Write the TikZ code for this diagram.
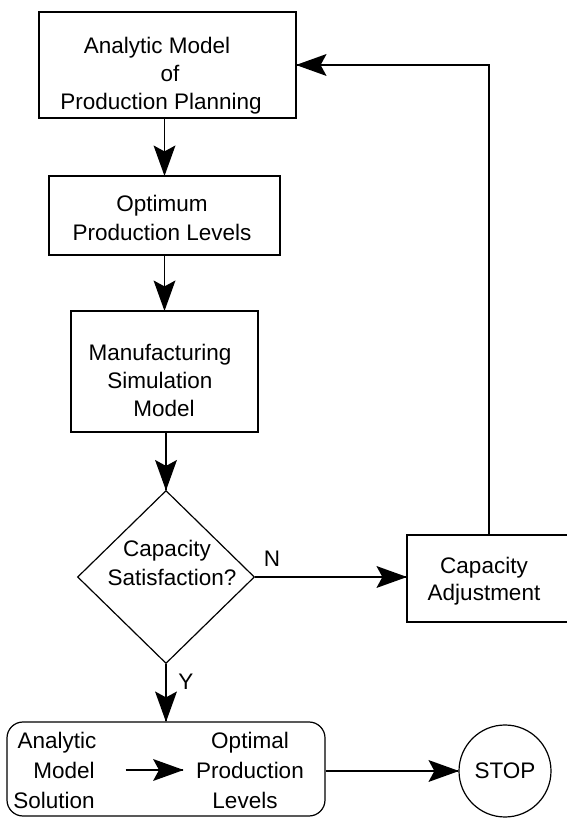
\documentclass[tikz,border=0pt]{standalone}
\usepackage{fontspec}
\setmainfont{Liberation Sans}
\usetikzlibrary{shapes.geometric,decorations.markings}
\begin{document}
\begin{tikzpicture}[x=1pt,y=1pt,
  box/.style={draw=black,line width=1.2pt,inner sep=0pt},
  txt/.style={align=center,inner sep=0pt,font=\fontsize{22.5}{28}\selectfont},
  flow/.style={draw=black,line width=1.2pt,
    postaction={decorate},
    decoration={markings,mark=at position 1 with
      {\fill[black] (0.6pt,0pt) -- (-30pt,11pt) -- (-24pt,0pt) -- (-30pt,-11pt) -- cycle;}}},
  lbl/.style={inner sep=0pt,font=\fontsize{22.5}{28}\selectfont}]
\useasboundingbox (0,0) rectangle (567,819);
\clip (0,0) rectangle (567,819);

% boxes of the main chain
\node[box,minimum width=257pt,minimum height=106pt] (b1) at (167.5,754) {};
\node[txt] (b1t) at (161,743.5) {Analytic Model\hspace*{8pt}\\\hspace*{18pt}of\\Production Planning};

\node[box,minimum width=231pt,minimum height=79pt] (b2) at (164.5,603.5) {};
\node[txt,font=\fontsize{22.5}{29}\selectfont] (b2t) at (162,601.5) {Optimum\\Production Levels};

\node[box,minimum width=187pt,minimum height=121pt] (b3) at (164.5,447.5) {};
\node[txt] (b3t) at (160,439) {Manufacturing\\Simulation\\\hspace*{8pt}Model};

% decision
\node[box,shape=diamond,minimum width=177pt,minimum height=173pt] (dia) at (166,242) {};
\node[txt,font=\fontsize{22.5}{29}\selectfont] (diat) at (172,256.5) {Capacity\hspace*{10pt}\\Satisfaction?};

% adjustment box, running off the right edge
\node[box,minimum width=164pt,minimum height=87pt] (adj) at (489,240.5) {};
\node[txt,font=\fontsize{22.5}{27}\selectfont] (adjt) at (484,237.5) {Capacity\\Adjustment};

% result box and stop
\node[box,minimum width=318pt,minimum height=94pt,rounded corners=16pt] (res) at (166,50) {};
\node[txt,font=\fontsize{22.5}{30}\selectfont] (rl) at (54,49) {\hspace*{6pt}Analytic\\\hspace*{20pt}Model\\Solution};
\node[txt,font=\fontsize{22.5}{30}\selectfont] (rr) at (250,49) {Optimal\\Production\\Levels\hspace*{10pt}};
\node[box,shape=circle,minimum size=92pt,font=\fontsize{22.5}{28}\selectfont] (stop) at (505,48) {STOP};

% connectors
\draw[flow] (b1.south -| b2.north) -- (b2.north);
\draw[flow] (b2.south) -- (b3.north);
\draw[flow] (b3.south -| dia.north) -- (dia.north);
\draw[flow] (dia.south) -- (dia.south |- res.north);
\draw[flow] (dia.east) -- (dia.east -| adj.west);
\draw[flow] (adj.north) |- (b1.east);
\draw[flow] ([xshift=29pt]rl.east) -- ([xshift=-13pt]rr.west);
\draw[flow] (res.east |- stop.west) -- (stop.west);

% branch labels
\node[lbl] (nlab) at (272,260) {N};
\node[lbl] (ylab) at (186,137) {Y};
\end{tikzpicture}
\end{document}
